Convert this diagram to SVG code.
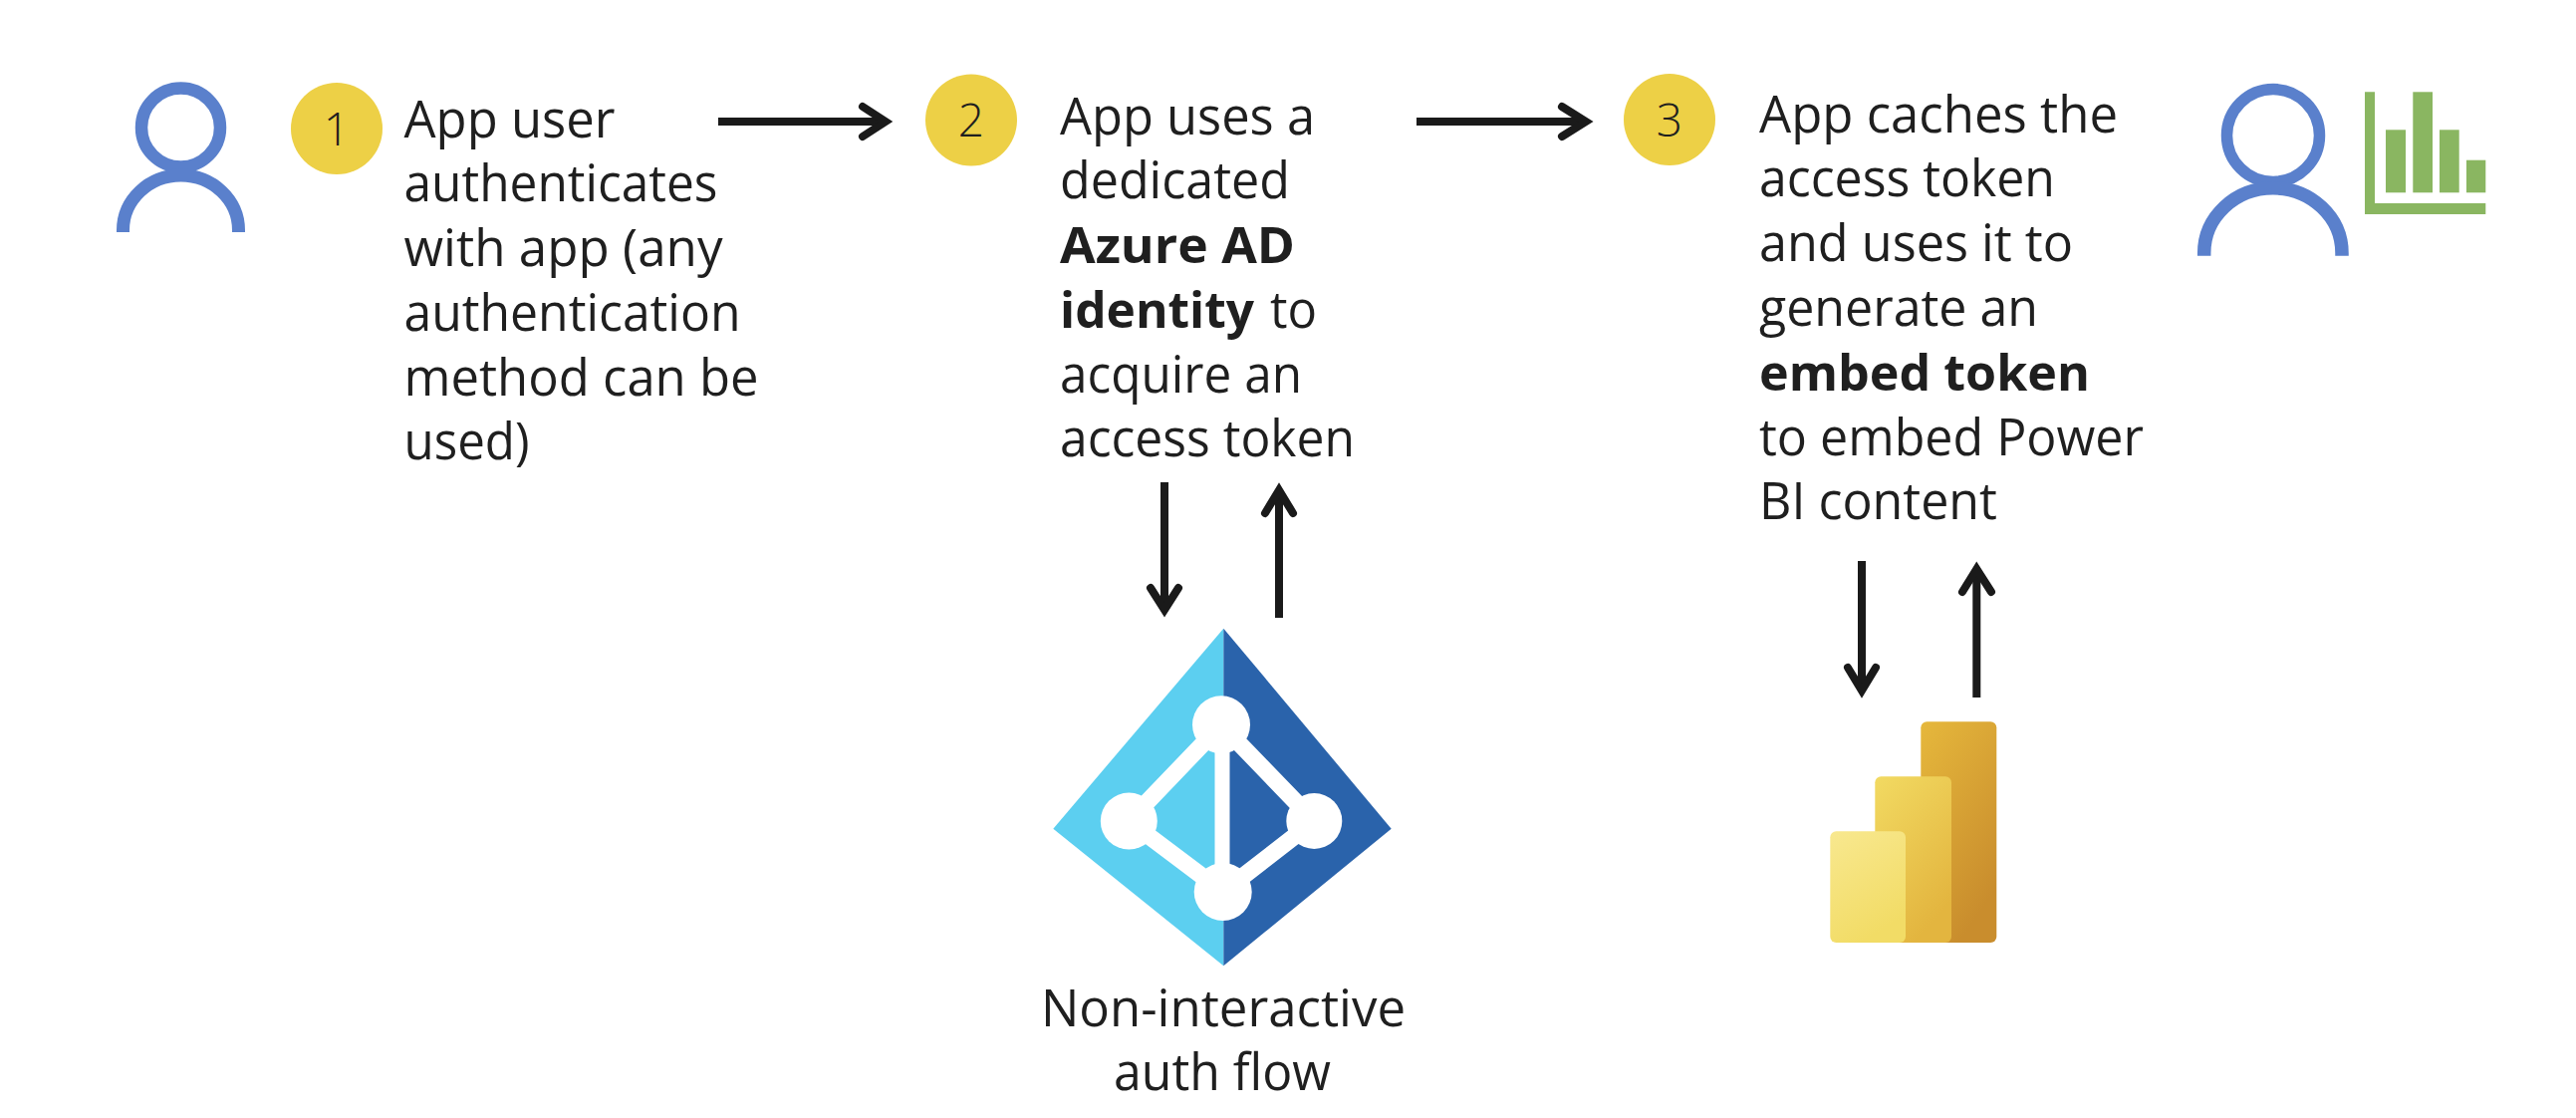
<svg xmlns="http://www.w3.org/2000/svg" width="2586" height="1122" viewBox="0 0 2586 1122">
<style>
text{font-family:"Open Sans","Noto Sans","Liberation Sans",sans-serif;fill:#1f1f1f;font-size:51px}
.b{font-weight:700}
.num{font-size:46px;font-weight:300;text-anchor:middle}
.badge{fill:#EDD046}
.person{fill:none;stroke:#5A80CC}
.shaft{fill:none;stroke:#1a1a1a;stroke-width:8}
.head{fill:none;stroke:#1a1a1a;stroke-width:8;stroke-linecap:round;stroke-linejoin:miter}
.chart{fill:#8AB661}
</style>
<defs>
<linearGradient id="g1" x1="0" y1="0" x2="0.5" y2="1"><stop offset="0" stop-color="#E6B83C"/><stop offset="1" stop-color="#C98D2D"/></linearGradient>
<linearGradient id="g2" x1="0" y1="0" x2="0.5" y2="1"><stop offset="0" stop-color="#F2DA62"/><stop offset="1" stop-color="#E3B53F"/></linearGradient>
<linearGradient id="g3" x1="0" y1="0" x2="0.4" y2="1"><stop offset="0" stop-color="#F8E88F"/><stop offset="1" stop-color="#F2DC66"/></linearGradient>
</defs>
<rect width="2586" height="1122" fill="#fff"/>
<g id="user-1">
<circle class="person" cx="181.5" cy="128" r="39.500" stroke-width="12.500"/>
<path class="person" stroke-width="13" d="M123.5 233V231A58 55 0 0 1 239.500 231V233"/>
</g>
<g id="step-1">
<circle class="badge" cx="338" cy="129" r="46"/>
<text class="num" x="338" y="146">1</text>
<text x="405.500" y="138" textLength="212" lengthAdjust="spacingAndGlyphs">App user</text>
<text x="405.500" y="202" textLength="315" lengthAdjust="spacingAndGlyphs">authenticates</text>
<text x="405.500" y="267" textLength="320" lengthAdjust="spacingAndGlyphs">with app (any</text>
<text x="405.500" y="332" textLength="338" lengthAdjust="spacingAndGlyphs">authentication</text>
<text x="405.500" y="397" textLength="356" lengthAdjust="spacingAndGlyphs">method can be</text>
<text x="405.500" y="461" textLength="126" lengthAdjust="spacingAndGlyphs">used)</text>
</g>
<g id="step-2">
<circle class="badge" cx="975" cy="120.500" r="46"/>
<text class="num" x="975" y="137">2</text>
<text x="1064" y="134.500" textLength="256" lengthAdjust="spacingAndGlyphs">App uses a</text>
<text x="1064" y="199" textLength="231" lengthAdjust="spacingAndGlyphs">dedicated</text>
<text class="b" x="1064" y="263.500" textLength="236" lengthAdjust="spacingAndGlyphs">Azure AD</text>
<text x="1064" y="329"><tspan class="b" textLength="195" lengthAdjust="spacingAndGlyphs">identity</tspan><tspan x="1275" textLength="47" lengthAdjust="spacingAndGlyphs">to</tspan></text>
<text x="1064" y="393.500" textLength="243" lengthAdjust="spacingAndGlyphs">acquire an</text>
<text x="1064" y="458" textLength="296" lengthAdjust="spacingAndGlyphs">access token</text>
</g>
<g id="step-3">
<circle class="badge" cx="1676" cy="120" r="46"/>
<text class="num" x="1676" y="137">3</text>
<text x="1766" y="133" textLength="360" lengthAdjust="spacingAndGlyphs">App caches the</text>
<text x="1766" y="197" textLength="297" lengthAdjust="spacingAndGlyphs">access token</text>
<text x="1766" y="262" textLength="315" lengthAdjust="spacingAndGlyphs">and uses it to</text>
<text x="1766" y="327" textLength="280" lengthAdjust="spacingAndGlyphs">generate an</text>
<text class="b" x="1766" y="392" textLength="332" lengthAdjust="spacingAndGlyphs">embed token</text>
<text x="1766" y="457" textLength="386" lengthAdjust="spacingAndGlyphs">to embed Power</text>
<text x="1766" y="521" textLength="239" lengthAdjust="spacingAndGlyphs">BI content</text>
</g>
<g id="user-analytics">
<circle class="person" cx="2282" cy="136" r="46.500" stroke-width="11.500"/>
<path class="person" stroke-width="13.500" d="M2212.700 256.700V254A69 65 0 0 1 2351 254V256.700"/>
<path class="chart" d="M2374 92.300H2384V204H2495.300V215H2374Z"/>
<rect class="chart" x="2395" y="130.300" width="20" height="63"/>
<rect class="chart" x="2422.300" y="92.300" width="19.700" height="101"/>
<rect class="chart" x="2449" y="130.300" width="19.700" height="63"/>
<rect class="chart" x="2476" y="160.700" width="19.300" height="32.600"/>
</g>
<g id="azure-ad">
<path fill="#5CCFF0" d="M1228.300 630.700L1057.300 831.700L1228.300 969.300Z"/>
<path fill="#2A63AB" d="M1228.300 630.700L1396.700 831.700L1228.300 969.300Z"/>
<g fill="none" stroke="#fff" stroke-width="17">
<path d="M1226 727.300L1133.300 824L1227.700 895L1319.300 824Z" stroke-linejoin="round"/>
</g>
<path d="M1227 727.300V895" fill="none" stroke="#fff" stroke-width="15"/>
<g fill="#fff">
<circle cx="1226" cy="727.300" r="29"/>
<circle cx="1133.300" cy="824" r="28.500"/>
<circle cx="1319.300" cy="824" r="28"/>
<circle cx="1227.700" cy="895" r="29"/>
</g>
<text x="1045" y="1030" textLength="366" lengthAdjust="spacingAndGlyphs">Non-interactive</text>
<text x="1118" y="1094" textLength="218" lengthAdjust="spacingAndGlyphs">auth flow</text>
</g>
<g id="power-bi">
<rect x="1928.300" y="724.300" width="76" height="221.700" rx="6" fill="url(#g1)"/>
<rect x="1882.300" y="779.300" width="76.700" height="166.700" rx="6" fill="url(#g2)"/>
<rect x="1837.300" y="834.300" width="75.700" height="111.700" rx="6" fill="url(#g3)"/>
</g>
<g id="connectors">
<path class="shaft" d="M721 122H889"/><path class="head" d="M866 107L889 122L866 137"/>
<path class="shaft" d="M1422 122H1592"/><path class="head" d="M1568 107L1592 122L1568 137"/>
<path class="shaft" d="M1169 484V612"/><path class="head" d="M1155 590L1169 612L1183 590"/>
<path class="shaft" d="M1284 620V492"/><path class="head" d="M1270 515L1284 492L1298 515"/>
<path class="shaft" d="M1869 563V693"/><path class="head" d="M1855 670L1869 693L1883 670"/>
<path class="shaft" d="M1984.300 700V571"/><path class="head" d="M1970 594L1984.300 571L1999 594"/>
</g>
</svg>
